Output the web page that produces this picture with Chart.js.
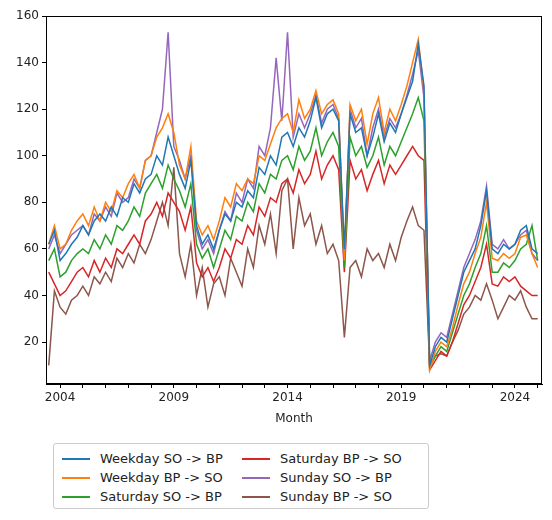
<!DOCTYPE html>
<html><head><meta charset="utf-8">
<script src="https://cdn.jsdelivr.net/npm/chart.js@4"></script>
<style>
body{margin:0;background:#fff;font-family:"DejaVu Sans",sans-serif;}
#wrap{position:absolute;left:0;top:0;width:552px;height:430px;}
#legend{position:absolute;left:53px;top:443px;width:376px;height:66px;border:1px solid #ccc;border-radius:3px;box-sizing:border-box;padding:5px 8px;display:grid;grid-template-columns:180px 180px;grid-auto-flow:column;grid-template-rows:repeat(3,19px);font-size:13px;color:#222;}
.it{display:flex;align-items:center;white-space:nowrap;}
.ln{width:28px;height:2px;margin-right:10px;}
</style></head><body>
<div id="wrap"><canvas id="c" width="552" height="430"></canvas></div>
<div id="legend"></div>
<script>
const startYear = 2003.5, step = 0.25;
const seriesNames = ["Weekday SO -> BP","Weekday BP -> SO","Saturday SO -> BP","Saturday BP -> SO","Sunday SO -> BP","Sunday BP -> SO"];
const colors = ["#1f77b4","#ff7f0e","#2ca02c","#d62728","#9467bd","#8c564b"];
const weekdaySoBp = [62,68,55,58,62,65, 70,66,72,75, 72,78,74,82, 80,88,84,90, 92,100,96,108, 100,92,86,98, 70,62,66,60, 68,75,72,80, 78,85,82,95, 92,100,96,108, 110,104,112,108, 115,125,112,118, 120,115,60,118, 110,112,100,108, 118,106,114,110, 118,125,132,148, 130,10,18,22, 20,30,40,50, 55,60,70,85, 60,58,62,60, 62,68,70,60, 58];
const weekdayBpSo = [62,70,60,62,68,72, 75,70,78,72, 80,76,85,82, 88,92,86,98, 100,108,112,118, 110,96,90,104, 72,66,70,64, 72,82,78,88, 85,90,88,100, 98,105,112,116, 118,110,124,116, 120,128,118,122, 124,118,55,122, 115,120,105,118, 125,110,120,115, 122,130,140,150, 128,8,16,20, 18,26,36,45, 50,58,65,80, 56,55,58,56, 58,65,66,58, 52];
const saturdaySoBp = [55,60,48,50,55,58, 60,58,64,60, 66,62,70,68, 72,78,74,84, 88,92,86,96, 90,85,78,88, 62,56,60,52, 60,68,64,74, 72,80,76,88, 84,92,90,98, 100,94,104,98, 102,112,100,106, 110,104,52,108, 100,104,95,100, 108,96,104,100, 106,112,118,125, 115,9,14,18, 16,24,32,40, 45,52,58,70, 50,50,54,52, 55,60,62,70, 55];
const saturdayBpSo = [50,45,40,42,46,50, 52,48,55,50, 56,52,60,58, 62,66,62,72, 75,80,74,84, 80,76,68,78, 54,48,52,46, 52,60,56,64, 62,70,66,78, 74,82,80,88, 90,84,94,88, 92,102,90,96, 100,94,50,98, 90,94,85,92, 98,88,96,92, 96,100,104,100, 98,8,12,16, 14,20,28,36, 40,46,52,62, 45,44,48,46, 48,44,42,40, 40];
const sundaySoBp = [60,66,58,62,66,68, 70,66,75,72, 78,74,84,80, 82,90,86,98, 100,110,120,153, 104,98,90,100, 68,60,64,58, 68,76,72,84, 80,90,86,104, 100,112,142,115, 153,108,118,112, 118,126,114,120, 122,116,56,120, 112,116,100,112, 120,108,116,112, 118,126,135,145, 125,12,20,24, 22,32,42,52, 58,64,72,87, 62,60,64,60, 62,66,68,58, 55];
const sundayBpSo = [10,42,35,32,38,40, 44,40,48,45, 50,46,56,52, 58,54,62,58, 64,72,80,70, 95,58,48,62, 40,52,35,45, 48,40,56,50, 44,60,52,70, 62,75,58,85, 90,60,82,70, 75,62,70,58, 62,55,22,52, 55,48,60,55, 58,52,62,55, 65,72,78,70, 68,10,14,15, 14,20,25,32, 35,40,38,45, 38,30,35,40, 38,42,35,30, 30];
const yTicks = [20,40,60,80,100,120,140,160];
const xMajor = [2004,2009,2014,2019,2024];

const all = [weekdaySoBp,weekdayBpSo,saturdaySoBp,saturdayBpSo,sundaySoBp,sundayBpSo];
const datasets = all.map((arr,k)=>({label:seriesNames[k],data:arr.map((v,i)=>({x:startYear+i*step,y:v})),borderColor:colors[k],borderWidth:1.5,pointRadius:0,tension:0,fill:false}));
const font={family:"DejaVu Sans",size:12};
const frame={id:'frame',afterDraw(c){const a=c.chartArea,x=c.ctx;x.save();x.strokeStyle='#000';x.lineWidth=1;x.strokeRect(a.left+0.5,a.top+0.5,a.right-a.left-1,a.bottom-a.top-1);x.restore();}};
new Chart(document.getElementById('c'),{type:'line',data:{datasets},plugins:[frame],
options:{responsive:false,animation:false,layout:{padding:{top:16,right:10,left:0,bottom:0}},
plugins:{legend:{display:false},tooltip:{enabled:false}},
scales:{
x:{type:'linear',min:2003.38,max:2025.19,grid:{display:true,drawOnChartArea:false,color:'#000',tickLength:4},border:{color:'#000'},
 afterBuildTicks:s=>{const t=[];for(let y=2004;y<=2025;y++)t.push({value:y});s.ticks=t;},
 ticks:{color:'#222',font,autoSkip:false,maxRotation:0,callback:v=>xMajor.includes(v)?String(v):''},
 title:{display:true,text:'Month',color:'#222',font},afterFit:s=>{s.height=46;}},
y:{min:2,max:160,grid:{display:true,drawOnChartArea:false,color:'#000',tickLength:4},border:{color:'#000'},
 afterBuildTicks:s=>{s.ticks=yTicks.map(v=>({value:v}));},
 ticks:{color:'#222',font},afterFit:s=>{s.width=46;}}
}}});
const lg=document.getElementById('legend');
seriesNames.forEach((n,k)=>{const d=document.createElement('div');d.className='it';d.innerHTML='<span class="ln" style="background:'+colors[k]+'"></span><span></span>';d.lastChild.textContent=n;lg.appendChild(d);});
</script></body></html>
